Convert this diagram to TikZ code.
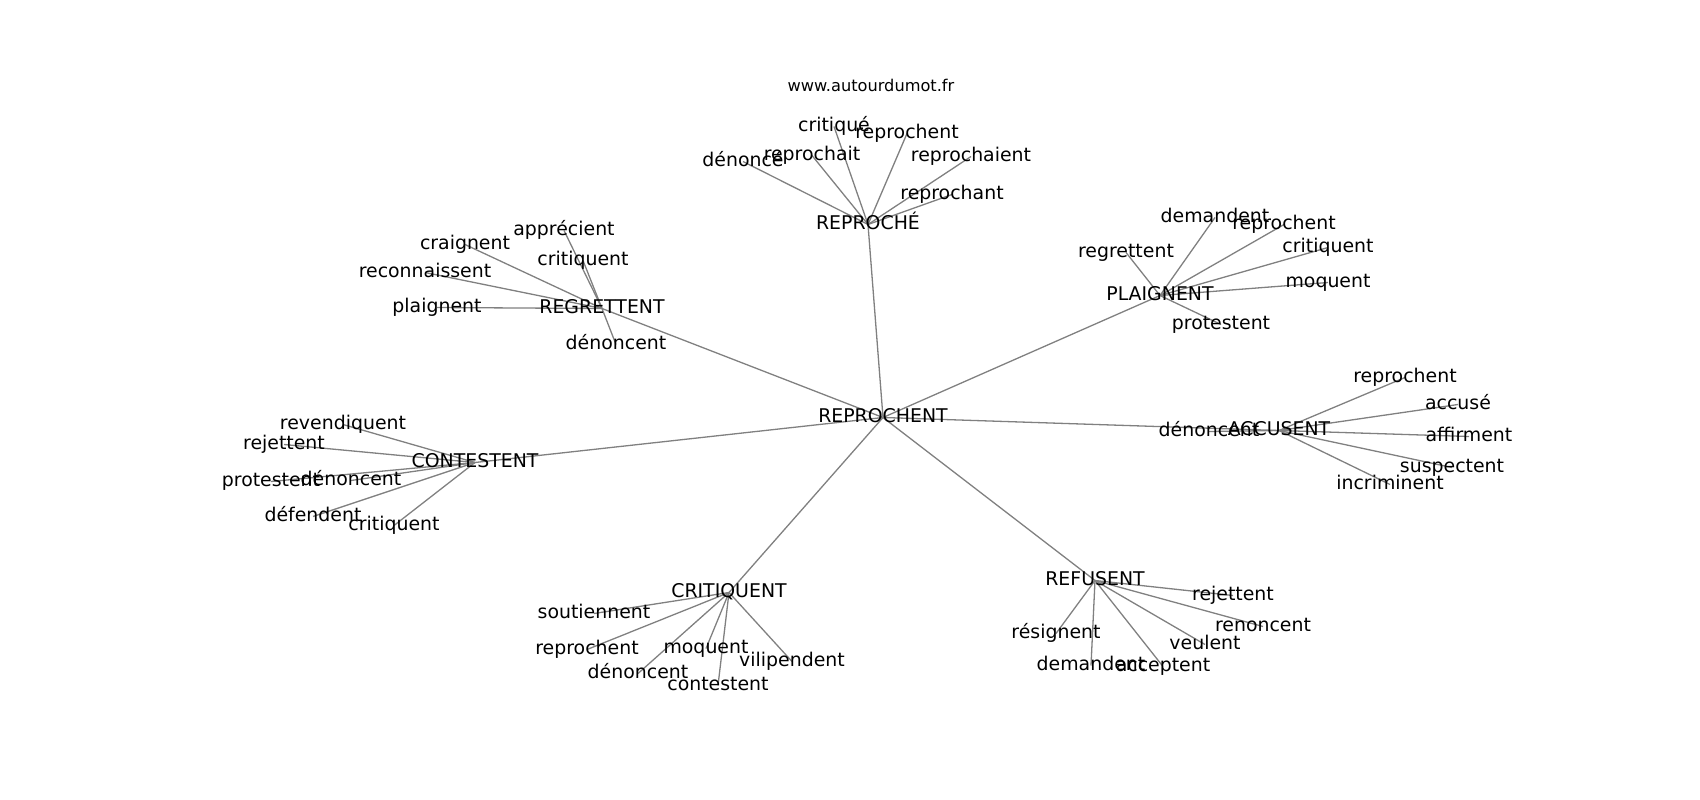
\documentclass[tikz,border=0pt]{standalone}
\usepackage{fontspec}
\setmainfont{DejaVu Sans}
\usetikzlibrary{positioning}
\pgfdeclarelayer{edges}
\pgfsetlayers{edges,main}

\begin{document}
\begin{tikzpicture}[x=1pt, y=-1pt]%
        \tikzstyle{word}=[inner sep=0pt, text height=14.4pt, text depth=4.5pt, font=\fontsize{18.9}{22}\selectfont];%
        \tikzstyle{link}=[draw=black!50, line width=1.3pt];%
        \useasboundingbox (0, -2.5) rectangle (1700, 797.5);

        \node[inner sep=0pt, font=\fontsize{16.2}{19}\selectfont] (t) at (871, 83) {www.autourdumot.fr};

        \node (c) at (883, 415) [word] {REPROCHENT};

        \node (1) at (868, 222) [word] {REPROCHÉ};
        \node (1a) at (743, 159) [word] {dénoncé};
        \node (1b) at (812, 153) [word] {reprochait};
        \node (1c) at (834, 124) [word] {critiqué};
        \node (1d) at (907, 131) [word] {reprochent};
        \node (1e) at (971, 154) [word] {reprochaient};
        \node (1f) at (952, 192) [word] {reprochant};

        \node (2) at (602, 306) [word] {REGRETTENT};
        \node (2a) at (564, 228) [word] {apprécient};
        \node (2b) at (465, 242) [word] {craignent};
        \node (2c) at (583, 258) [word] {critiquent};
        \node (2d) at (425, 270) [word] {reconnaissent};
        \node (2e) at (437, 305) [word] {plaignent};
        \node (2f) at (616, 342) [word] {dénoncent};

        \node (3) at (1160, 293) [word] {PLAIGNENT};
        \node (3a) at (1215, 215) [word] {demandent};
        \node (3b) at (1284, 222) [word] {reprochent};
        \node (3c) at (1126, 250) [word] {regrettent};
        \node (3d) at (1328, 245) [word] {critiquent};
        \node (3e) at (1328, 280) [word] {moquent};
        \node (3f) at (1221, 322) [word] {protestent};

        \node (4) at (1279, 428) [word] {ACCUSENT};
        \node (4a) at (1405, 375) [word] {reprochent};
        \node (4b) at (1458, 402) [word] {accusé};
        \node (4c) at (1209, 429) [word] {dénoncent};
        \node (4d) at (1469, 434) [word] {affirment};
        \node (4e) at (1452, 465) [word] {suspectent};
        \node (4f) at (1390, 482) [word] {incriminent};

        \node (5) at (475, 460) [word] {CONTESTENT};
        \node (5a) at (343, 422) [word] {revendiquent};
        \node (5b) at (284, 442) [word] {rejettent};
        \node (5c) at (271, 479) [word] {protestent};
        \node (5d) at (351, 478) [word] {dénoncent};
        \node (5e) at (313, 514) [word] {défendent};
        \node (5f) at (394, 523) [word] {critiquent};

        \node (6) at (729, 590) [word] {CRITIQUENT};
        \node (6a) at (594, 611) [word] {soutiennent};
        \node (6b) at (587, 647) [word] {reprochent};
        \node (6c) at (706, 646) [word] {moquent};
        \node (6d) at (792, 659) [word] {vilipendent};
        \node (6e) at (638, 671) [word] {dénoncent};
        \node (6f) at (718, 683) [word] {contestent};

        \node (7) at (1095, 578) [word] {REFUSENT};
        \node (7a) at (1233, 593) [word] {rejettent};
        \node (7b) at (1263, 624) [word] {renoncent};
        \node (7c) at (1056, 631) [word] {résignent};
        \node (7d) at (1205, 642) [word] {veulent};
        \node (7e) at (1091, 663) [word] {demandent};
        \node (7f) at (1163, 664) [word] {acceptent};

        \begin{pgfonlayer}{edges}
        \draw (c.center) edge[link] (1.center);
        \draw (c.center) edge[link] (2.center);
        \draw (c.center) edge[link] (3.center);
        \draw (c.center) edge[link] (4.center);
        \draw (c.center) edge[link] (5.center);
        \draw (c.center) edge[link] (6.center);
        \draw (c.center) edge[link] (7.center);

        \foreach \h in {1, 2, 3, 4, 5, 6, 7} {
            \foreach \l in {a, b, c, d, e, f} {
                \draw (\h.center) edge[link] (\h\l.center);
            }
        }
        \end{pgfonlayer}
    \end{tikzpicture}
\end{document}
